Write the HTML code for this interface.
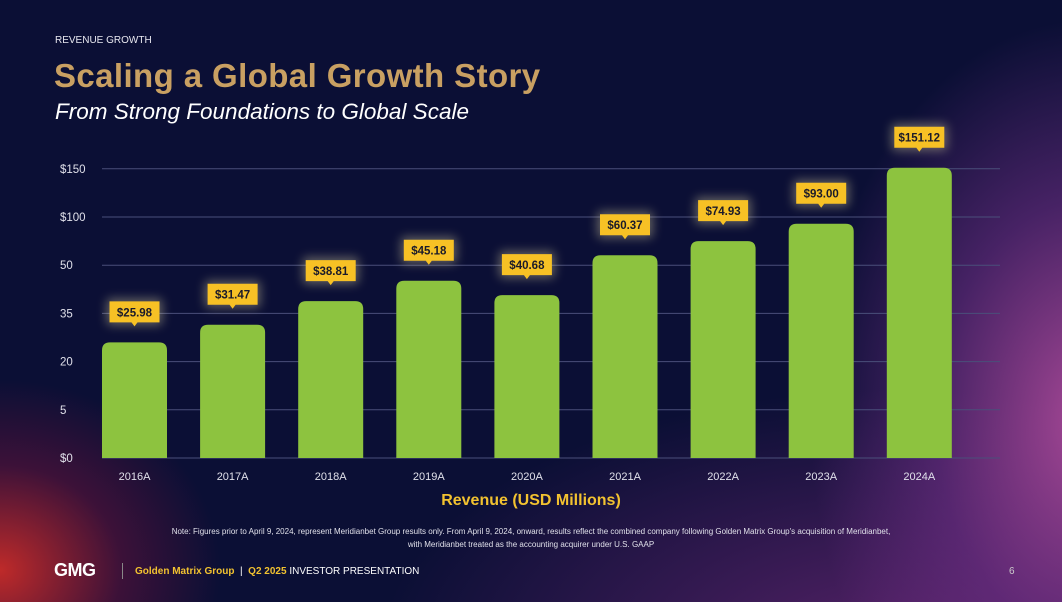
<!DOCTYPE html>
<html><head><meta charset="utf-8"><style>
body{margin:0;width:1062px;height:602px;overflow:hidden;font-family:"Liberation Sans",sans-serif;}
#bg{position:absolute;left:0;top:0;width:1062px;height:602px;background:
radial-gradient(ellipse 280px 400px at 1090px 420px,rgba(175,75,155,0.95),rgba(120,50,140,0.55) 55%,rgba(0,0,0,0) 100%),
radial-gradient(ellipse 220px 190px at 0px 570px,rgba(210,45,40,0.9),rgba(120,20,60,0.45) 55%,rgba(0,0,0,0) 100%),
radial-gradient(ellipse 520px 260px at 900px 650px,rgba(110,40,120,0.75),rgba(0,0,0,0) 100%),
#0b0f35;}
.t{position:absolute;white-space:nowrap;}
</style></head><body>
<div id="bg"></div>
<div class="t" style="left:55px;top:35px;font-size:10px;color:#e8e8f0;">REVENUE GROWTH</div>
<div class="t" style="left:54px;top:57px;font-size:33px;font-weight:bold;color:#c9a062;letter-spacing:0.4px;">Scaling a Global Growth Story</div>
<div class="t" style="left:55px;top:99px;font-size:22.5px;font-style:italic;color:#fff;">From Strong Foundations to Global Scale</div>
<svg id="chart" width="1062" height="602" style="position:absolute;left:0;top:0"></svg>
<div class="t" style="left:0;width:1062px;text-align:center;top:492px;font-size:16px;font-weight:bold;color:#f2c230;">Revenue (USD Millions)</div>
<div class="t" style="left:0;width:1062px;text-align:center;top:525px;font-size:8px;color:#e0e0ea;line-height:13px;">Note: Figures prior to April 9, 2024, represent Meridianbet Group results only. From April 9, 2024, onward, results reflect the combined company following Golden Matrix Group's acquisition of Meridianbet,<br>with Meridianbet treated as the accounting acquirer under U.S. GAAP</div>
<div class="t" style="left:54px;top:560px;font-size:18px;font-weight:bold;color:#fff;letter-spacing:-0.5px;">GMG</div>
<div class="t" style="left:122px;top:563px;width:1px;height:16px;background:#888;"></div>
<div class="t" style="left:135px;top:566px;font-size:10px;color:#fff;"><b style="color:#f2c230">Golden Matrix Group</b> &nbsp;|&nbsp; <b style="color:#f2c230">Q2 2025</b> INVESTOR PRESENTATION</div>
<div class="t" style="left:1009px;top:566px;font-size:10px;color:#ccc;">6</div>
<script>
const categories=["2016A","2017A","2018A","2019A","2020A","2021A","2022A","2023A","2024A"];
const revenue=[25.98,31.47,38.81,45.18,40.68,60.37,74.93,93.00,151.12];
const tickValues=[0,5,20,35,50,100,150];
const tickLabels=["$0","5","20","35","50","$100","$150"];
const svg=document.getElementById('chart');const NS="http://www.w3.org/2000/svg";
const y0=458,step=48.2,x0=102,pitch=98.1,bw=65;
function yScale(v){for(let i=0;i<tickValues.length-1;i++){const a=tickValues[i],b=tickValues[i+1];if(v<=b||i==tickValues.length-2){return y0-step*(i+(v-a)/(b-a));}}}
function xScale(i){return x0+i*pitch;}
function mk(t,a){const e=document.createElementNS(NS,t);for(const k in a)e.setAttribute(k,a[k]);svg.appendChild(e);return e;}
const defs=mk('defs',{});defs.innerHTML='<filter id="gl" x="-50%" y="-50%" width="200%" height="200%"><feGaussianBlur stdDeviation="5"/></filter>';
tickValues.forEach((v,i)=>{const y=yScale(v);
const l=mk('line',{x1:x0,x2:1000,y1:y,y2:y,stroke:'#4a4f7a','stroke-width':1});

const t=mk('text',{x:60,y:y+4,fill:'#e0e0ea','font-size':11.5,'font-family':'Liberation Sans'});t.textContent=tickLabels[i];
});
revenue.forEach((v,i)=>{const x=xScale(i),top=yScale(v),h=y0-top,r=8;
const p=mk('path',{d:`M${x},${y0}V${top+r}Q${x},${top} ${x+r},${top}H${x+bw-r}Q${x+bw},${top} ${x+bw},${top+r}V${y0}Z`,fill:'#8dc33f'});

const cx=x+bw/2,bb=top-20,bt=bb-21;
const g=mk('rect',{x:cx-28,y:bt-3,width:56,height:27,rx:4,fill:'#fff3b0',opacity:0.35,filter:'url(#gl)'});
const b=mk('path',{d:`M${cx-25},${bt}H${cx+25}V${bb}H${cx+3}L${cx},${bb+4}L${cx-3},${bb}H${cx-25}Z`,fill:'#f7c125'});

const t=mk('text',{x:cx,y:bb-6,'text-anchor':'middle',fill:'#1a1a2a','font-size':11.5,'font-weight':'bold','font-family':'Liberation Sans'});t.textContent='$'+v.toFixed(2);

const c=mk('text',{x:cx,y:480,'text-anchor':'middle',fill:'#e0e0ea','font-size':11,'font-family':'Liberation Sans'});c.textContent=categories[i];
});
</script>
</body></html>
